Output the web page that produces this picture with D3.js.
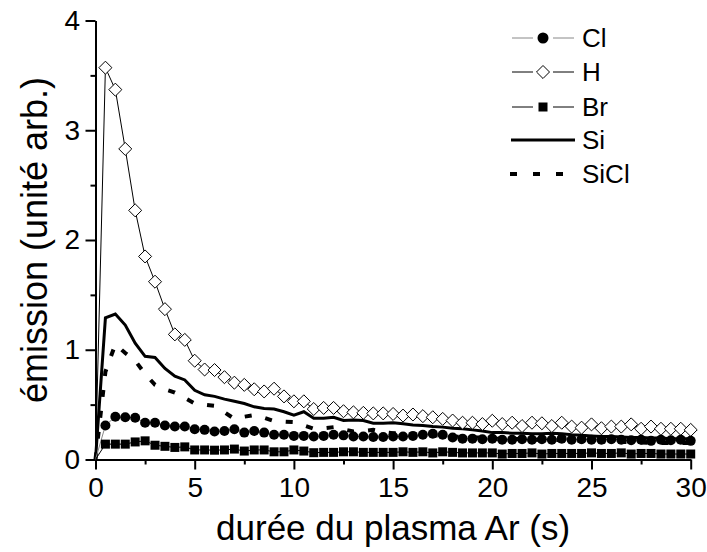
<!DOCTYPE html>
<html>
<head>
<meta charset="utf-8">
<script src="https://cdn.jsdelivr.net/npm/d3@7"></script>
<style>
  body { margin: 0; background: #fff; }
  text { font-family: "Liberation Sans", Arial, sans-serif; fill: #000; }
</style>
</head>
<body>
<svg id="chart" width="707" height="552"></svg>
<script>
// durée (s)
const time = [0, 0.5, 1, 1.5, 2, 2.5, 3, 3.5, 4, 4.5, 5, 5.5, 6, 6.5, 7, 7.5, 8, 8.5, 9, 9.5,
  10, 10.5, 11, 11.5, 12, 12.5, 13, 13.5, 14, 14.5, 15, 15.5, 16, 16.5, 17, 17.5, 18, 18.5, 19, 19.5,
  20, 20.5, 21, 21.5, 22, 22.5, 23, 23.5, 24, 24.5, 25, 25.5, 26, 26.5, 27, 27.5, 28, 28.5, 29, 29.5, 30];

const clValues = [0, 0.31, 0.39, 0.385, 0.38, 0.335, 0.335, 0.31, 0.30, 0.30, 0.275, 0.27, 0.255, 0.26, 0.275, 0.245, 0.26, 0.245, 0.225, 0.225,
  0.215, 0.215, 0.21, 0.215, 0.225, 0.22, 0.21, 0.21, 0.205, 0.205, 0.21, 0.21, 0.215, 0.225, 0.235, 0.225, 0.20, 0.19, 0.19, 0.185,
  0.19, 0.18, 0.18, 0.185, 0.18, 0.185, 0.18, 0.19, 0.18, 0.185, 0.18, 0.18, 0.185, 0.18, 0.175, 0.18, 0.17, 0.18, 0.175, 0.18, 0.17];

const hValues = [0, 3.57, 3.37, 2.83, 2.27, 1.85, 1.62, 1.37, 1.14, 1.09, 0.90, 0.82, 0.815, 0.75, 0.70, 0.68, 0.64, 0.62, 0.645, 0.575,
  0.53, 0.53, 0.46, 0.47, 0.47, 0.44, 0.43, 0.425, 0.42, 0.42, 0.415, 0.40, 0.41, 0.395, 0.385, 0.37, 0.355, 0.335, 0.335, 0.323,
  0.353, 0.323, 0.335, 0.305, 0.335, 0.33, 0.305, 0.335, 0.30, 0.29, 0.32, 0.285, 0.30, 0.30, 0.32, 0.28, 0.30, 0.28, 0.28, 0.28, 0.27];

const brValues = [0, 0.14, 0.14, 0.14, 0.16, 0.17, 0.13, 0.12, 0.11, 0.115, 0.087, 0.087, 0.085, 0.087, 0.095, 0.077, 0.087, 0.087, 0.07, 0.07,
  0.087, 0.077, 0.062, 0.065, 0.065, 0.07, 0.07, 0.065, 0.065, 0.065, 0.065, 0.07, 0.065, 0.07, 0.06, 0.07, 0.065, 0.06, 0.06, 0.06,
  0.06, 0.05, 0.055, 0.055, 0.06, 0.05, 0.055, 0.055, 0.055, 0.055, 0.06, 0.055, 0.055, 0.06, 0.05, 0.055, 0.055, 0.05, 0.05, 0.05, 0.05];

const siValues = [0, 1.29, 1.325, 1.225, 1.06, 0.94, 0.93, 0.83, 0.76, 0.725, 0.63, 0.59, 0.575, 0.55, 0.53, 0.51, 0.48, 0.465, 0.46, 0.435,
  0.405, 0.435, 0.375, 0.375, 0.385, 0.355, 0.36, 0.355, 0.33, 0.33, 0.335, 0.325, 0.315, 0.31, 0.30, 0.295, 0.285, 0.28, 0.27, 0.26,
  0.245, 0.245, 0.24, 0.24, 0.235, 0.235, 0.24, 0.235, 0.225, 0.22, 0.215, 0.21, 0.21, 0.205, 0.2, 0.2, 0.195, 0.195, 0.19, 0.19, 0.19];

const siclValues = [0, 0.8, 1.05, 0.97, 0.9, 0.78, 0.68, 0.64, 0.61, 0.56, 0.51, 0.50, 0.49, 0.43, 0.37, 0.39, 0.405, 0.38, 0.35, 0.345,
  0.34, 0.31, 0.28, 0.285, 0.295, 0.275, 0.255, 0.26, 0.27, 0.25, 0.24, 0.235, 0.23, 0.225, 0.22, 0.215, 0.21, 0.205, 0.2, 0.2,
  0.19, 0.19, 0.19, 0.185, 0.18, 0.18, 0.18, 0.175, 0.17, 0.17, 0.17, 0.165, 0.16, 0.16, 0.16, 0.155, 0.15, 0.15, 0.15, 0.15, 0.15];

const legendNames = ["Cl", "H", "Br", "Si", "SiCl"];
const xTicks = [0, 5, 10, 15, 20, 25, 30];
const yTicks = [0, 1, 2, 3, 4];

const svg = d3.select("#chart");
const plotLeft = 95.5, plotRight = 690.7, plotTop = 20.5, plotBottom = 459.5;

const x = d3.scaleLinear().domain([0, 30]).range([plotLeft, plotRight]);
const y = d3.scaleLinear().domain([0, 4]).range([plotBottom, plotTop]);

// axes: minor ticks first, then major with labels
svg.append("g")
  .attr("transform", `translate(0,${plotBottom})`)
  .call(d3.axisBottom(x).tickValues([2.5, 7.5, 12.5, 17.5, 22.5, 27.5]).tickSize(5).tickFormat(""))
  .call(g => g.select(".domain").remove());
svg.append("g")
  .attr("transform", `translate(${plotLeft},0)`)
  .call(d3.axisLeft(y).tickValues([0.5, 1.5, 2.5, 3.5]).tickSize(5).tickFormat(""))
  .call(g => g.select(".domain").remove());

const gx = svg.append("g")
  .attr("transform", `translate(0,${plotBottom})`)
  .call(d3.axisBottom(x).tickValues(xTicks).tickSize(10).tickSizeOuter(0).tickPadding(7.5).tickFormat(d3.format("d")));
const gy = svg.append("g")
  .attr("transform", `translate(${plotLeft},0)`)
  .call(d3.axisLeft(y).tickValues(yTicks).tickSize(10).tickSizeOuter(0).tickPadding(5.5).tickFormat(d3.format("d")));

svg.selectAll(".tick line, .domain").attr("stroke", "#000").attr("stroke-width", 2);
[gx, gy].forEach(g => g.selectAll("text").attr("font-size", 28));
[gx, gy].forEach(g => g.attr("font-family", null));

svg.append("text")
  .attr("x", (plotLeft + plotRight) / 2)
  .attr("y", 540)
  .attr("text-anchor", "middle")
  .attr("font-size", 35)
  .text("durée du plasma Ar (s)");

svg.append("text")
  .attr("transform", `translate(47,${(plotTop + plotBottom) / 2}) rotate(-90)`)
  .attr("text-anchor", "middle")
  .attr("font-size", 36)
  .text("émission (unité arb.)");

const plot = svg.append("g");
const pts = vals => time.map((t, i) => [t, vals[i]]);
const line = d3.line().x(d => x(d[0])).y(d => y(d[1]));

// Si and SiCl lines
plot.append("path").datum(pts(siValues))
  .attr("d", line).attr("fill", "none").attr("stroke", "#000").attr("stroke-width", 3);
plot.append("path").datum(pts(siclValues))
  .attr("d", line).attr("fill", "none").attr("stroke", "#000").attr("stroke-width", 4)
  .attr("stroke-dasharray", "7,14");

// thin lines of marker series
plot.append("path").datum(pts(hValues))
  .attr("d", line).attr("fill", "none").attr("stroke", "#000").attr("stroke-width", 1);
plot.append("path").datum(pts(clValues))
  .attr("d", line).attr("fill", "none").attr("stroke", "#888").attr("stroke-width", 1);
plot.append("path").datum(pts(brValues))
  .attr("d", line).attr("fill", "none").attr("stroke", "#000").attr("stroke-width", 1);

const withMarkers = vals => pts(vals).filter(d => d[0] > 0);

const diamond = d3.symbol().type(d3.symbolDiamond2).size(108);
plot.selectAll(".h").data(withMarkers(hValues)).enter().append("path")
  .attr("class", "h")
  .attr("transform", d => `translate(${x(d[0])},${y(d[1])})`)
  .attr("d", diamond).attr("fill", "#fff").attr("stroke", "#000").attr("stroke-width", 1);

plot.selectAll(".cl").data(withMarkers(clValues)).enter().append("circle")
  .attr("class", "cl")
  .attr("cx", d => x(d[0])).attr("cy", d => y(d[1])).attr("r", 5)
  .attr("fill", "#000");

plot.selectAll(".br").data(withMarkers(brValues)).enter().append("rect")
  .attr("class", "br")
  .attr("x", d => x(d[0]) - 4.5).attr("y", d => y(d[1]) - 4.5)
  .attr("width", 9).attr("height", 9)
  .attr("fill", "#000");

// legend
const legendY = [38, 72, 107, 140, 174];
const lg = svg.append("g");
legendNames.forEach((name, i) => {
  const yy = legendY[i];
  const row = lg.append("g").attr("transform", `translate(0,${yy})`);
  if (name === "Si") {
    row.append("line").attr("x1", 511).attr("x2", 575).attr("stroke", "#000").attr("stroke-width", 3);
  } else if (name === "SiCl") {
    row.append("line").attr("x1", 510).attr("x2", 575).attr("stroke", "#000").attr("stroke-width", 4)
      .attr("stroke-dasharray", "7,16");
  } else {
    const stroke = name === "Cl" ? "#888" : "#000";
    row.append("line").attr("x1", 512).attr("x2", 533).attr("stroke", stroke).attr("stroke-width", 1);
    row.append("line").attr("x1", 553).attr("x2", 574).attr("stroke", stroke).attr("stroke-width", 1);
    if (name === "Cl") {
      row.append("circle").attr("cx", 543).attr("r", 5.5).attr("fill", "#000");
    } else if (name === "H") {
      row.append("path").attr("transform", "translate(543,0)").attr("d", diamond)
        .attr("fill", "#fff").attr("stroke", "#000");
    } else {
      row.append("rect").attr("x", 538.5).attr("y", -4.5).attr("width", 9).attr("height", 9).attr("fill", "#000");
    }
  }
  row.append("text").attr("x", 582).attr("dy", "0.35em").attr("font-size", 26).text(name);
});
</script>
</body>
</html>
